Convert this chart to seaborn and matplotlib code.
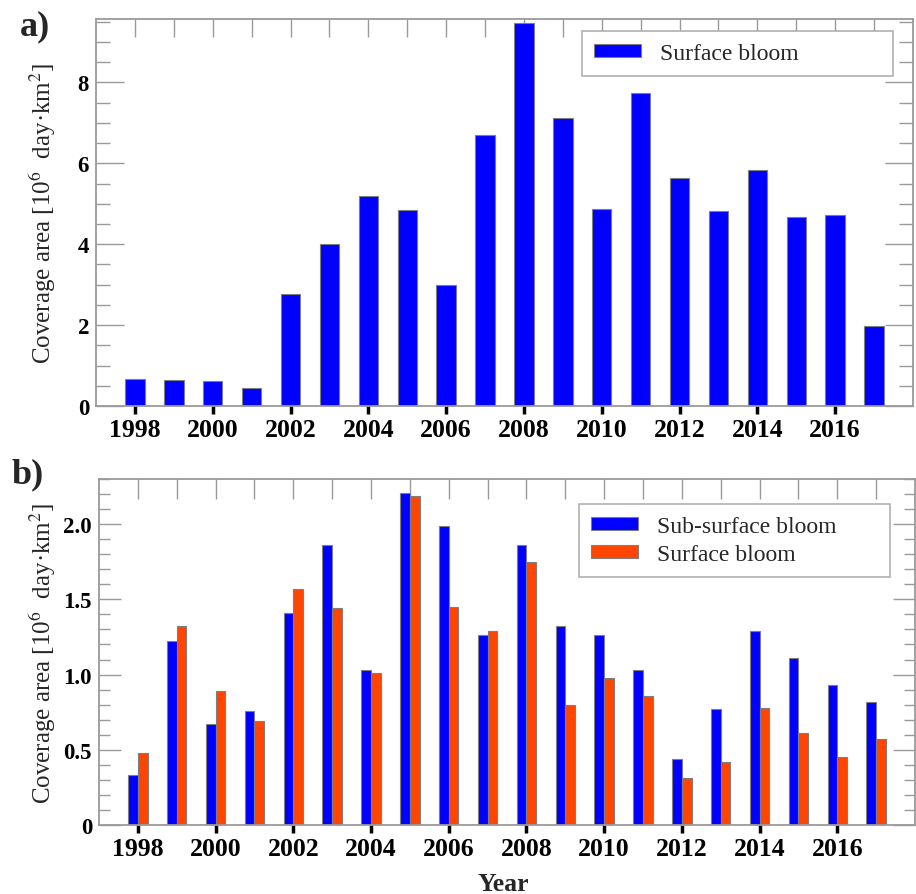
import numpy as np
import pandas as pd
import matplotlib
matplotlib.use("Agg")
import matplotlib.pyplot as plt
import seaborn as sns
from matplotlib.ticker import MultipleLocator, FixedLocator

# ---------------- data ----------------
years = list(range(1998, 2018))
surface_a = [0.66, 0.64, 0.61, 0.44, 2.77, 4.01, 5.20, 4.85, 3.00, 6.70,
             9.47, 7.11, 4.88, 7.73, 5.63, 4.82, 5.84, 4.67, 4.72, 1.97]
subsurface_b = [0.33, 1.22, 0.67, 0.76, 1.41, 1.86, 1.03, 2.21, 1.99, 1.26,
                1.86, 1.32, 1.26, 1.03, 0.44, 0.77, 1.29, 1.11, 0.93, 0.82]
surface_b = [0.48, 1.32, 0.89, 0.69, 1.57, 1.44, 1.01, 2.19, 1.45, 1.29,
             1.75, 0.80, 0.98, 0.86, 0.31, 0.42, 0.78, 0.61, 0.45, 0.57]
a_yticks = [0, 2, 4, 6, 8]
a_ytick_labels = ["0", "2", "4", "6", "8"]
b_yticks = [0, 0.5, 1.0, 1.5, 2.0]
b_ytick_labels = ["0", "0.5", "1.0", "1.5", "2.0"]
x_major = list(range(1998, 2018, 2))
x_major_labels = [str(y) for y in x_major]
series_names = ["Sub-surface bloom", "Surface bloom"]

BLUE = "#0000FF"
ORANGE = "#FF4500"
GRAY = "#9a9a9a"

sns.set_theme(style="white")
plt.rcParams["font.family"] = ["Liberation Serif", "DejaVu Serif"]
plt.rcParams["mathtext.fontset"] = "stix"

fig = plt.figure(figsize=(9.16, 8.95), dpi=100)
ax1 = fig.add_axes([0.1048, 0.5453, 0.9967 - 0.1048, 0.9777 - 0.5453])
ax2 = fig.add_axes([0.1081, 0.0771, 0.9989 - 0.1081, 0.4637 - 0.0771])

# ---------------- panel a ----------------
df_a = pd.DataFrame({"year": years, "value": surface_a})
sns.barplot(data=df_a, x="year", y="value", native_scale=True, width=0.5,
            color=BLUE, saturation=1, edgecolor="#7f7f7f", linewidth=0.8,
            label="Surface bloom", ax=ax1)

# ---------------- panel b ----------------
df_b = pd.DataFrame({
    "year": years * 2,
    "value": subsurface_b + surface_b,
    "type": [series_names[0]] * len(years) + [series_names[1]] * len(years),
})
sns.barplot(data=df_b, x="year", y="value", hue="type", hue_order=series_names,
            native_scale=True, width=0.5, dodge=True, gap=0,
            palette={series_names[0]: BLUE, series_names[1]: ORANGE},
            saturation=1, edgecolor="#7f7f7f", linewidth=0.8, ax=ax2)


def style_axis(ax, ylim, yticks, ylabels, yminor, ymaj_len, ymin_len, xtop_len, xbot_len,
               ylab_x):
    ax.set_xlim(1997, 2018)
    ax.set_ylim(*ylim)
    for sp in ax.spines.values():
        sp.set_color(GRAY)
        sp.set_linewidth(1.3)
        sp.set_visible(True)
    ax.set_yticks(yticks, ylabels, fontweight="bold")
    ax.yaxis.set_minor_locator(MultipleLocator(yminor))
    ax.tick_params(axis="y", which="major", direction="in", left=True, right=True,
                   length=ymaj_len, width=1.0, color=GRAY, labelsize=16.5, pad=5,
                   labelcolor="black")
    ax.tick_params(axis="y", which="minor", direction="in", left=True, right=True,
                   length=ymin_len, width=1.0, color=GRAY)
    ax.set_xticks(x_major, x_major_labels, fontweight="bold")
    ax.xaxis.set_minor_locator(FixedLocator(years))
    ax.xaxis.remove_overlapping_locs = False
    ax.tick_params(axis="x", which="major", direction="inout", bottom=True, top=False,
                   length=xbot_len, width=2.5, color="black", labelsize=18.5, pad=3,
                   labelcolor="black")
    ax.tick_params(axis="x", which="minor", direction="in", bottom=True, top=True,
                   length=xtop_len, width=1.0, color=GRAY)
    ax.set_ylabel(r"Coverage area [10$^{6}$  day·km$^{2}$]", fontsize=18,
                  fontweight="normal")
    ax.yaxis.set_label_coords(ylab_x, 0.5)
    ax.set_xlabel("")


style_axis(ax1, (0, 9.57), a_yticks, a_ytick_labels, 0.5, 20, 10, 13, 12, -0.047)
style_axis(ax2, (0, 2.30), b_yticks, b_ytick_labels, 0.1, 16, 8, 14.4, 11.5, -0.050)

ax2.set_xlabel("Year", fontsize=18.5, fontweight="bold")
ax2.xaxis.set_label_coords(0.495, -0.136)

leg_kw = dict(loc="upper left", fancybox=False, framealpha=1, edgecolor="#b0b0b0",
              prop={"size": 17, "family": ["Liberation Serif"]},
              handlelength=2.0, handleheight=0.45, handletextpad=0.8,
              borderpad=0.5, labelspacing=0.3, borderaxespad=0, mode="expand")
l1 = ax1.legend(bbox_to_anchor=(0.595, 0.968 - 0.2, 0.3807, 0.2), **leg_kw)
l2 = ax2.legend(bbox_to_anchor=(0.588, 0.928 - 0.3, 0.3815, 0.3), title=None, **leg_kw)
for l in (l1, l2):
    l.get_frame().set_linewidth(1.2)

fig.text(20 / 916, 1 - 27 / 895, "a)", fontsize=26, fontweight="bold", va="center", ha="left")
fig.text(12 / 916, 1 - 475 / 895, "b)", fontsize=26, fontweight="bold", va="center", ha="left")

fig.savefig("out.png", dpi=100)
